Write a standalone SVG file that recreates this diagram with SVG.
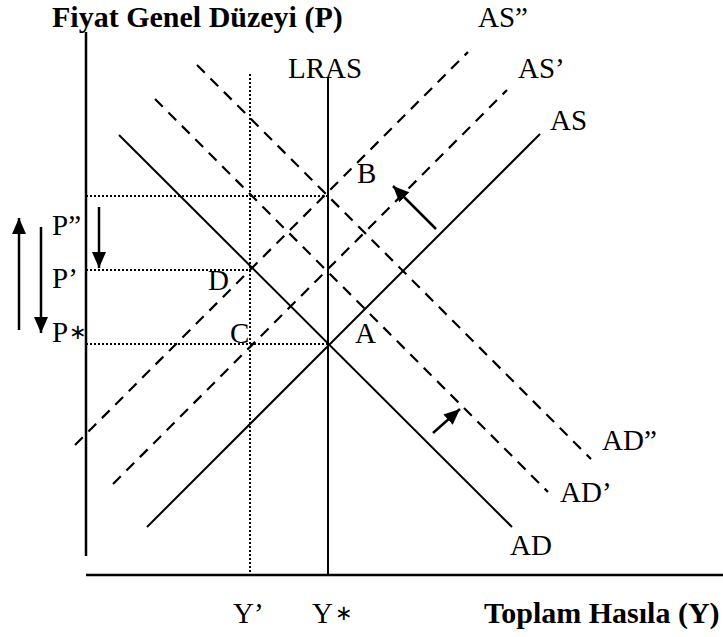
<svg xmlns="http://www.w3.org/2000/svg" width="723" height="637" viewBox="0 0 723 637">
<style>
.ln{stroke:#000;stroke-width:2;fill:none}
.ax{stroke:#000;stroke-width:2.5;fill:none}
.dash{stroke:#000;stroke-width:2.2;fill:none;stroke-dasharray:11 8}
.dot{stroke:#000;stroke-width:2;fill:none;stroke-dasharray:2 2}
.arr{stroke:#000;stroke-width:2.5;fill:none;marker-end:url(#ah)}
text{font-family:"Liberation Serif","Times New Roman",serif;font-size:29px;fill:#000}
.b{font-weight:bold;font-size:30px}
.st{font-size:21px}
</style>
<defs>
<marker id="ah" markerUnits="userSpaceOnUse" markerWidth="18" markerHeight="16" refX="16" refY="7" orient="auto">
<path d="M0,0 L16,7 L0,14 z" fill="#000"/>
</marker>
</defs>
<g id="axes">
<line class="ax" x1="86" y1="32" x2="86" y2="556"/>
<line class="ax" x1="86" y1="575" x2="723" y2="575"/>
<text class="b" x="52" y="27">Fiyat Genel Düzeyi (P)</text>
<text class="b" x="484" y="623">Toplam Hasıla (Y)</text>
</g>
<g id="connectors">
<line class="dot" x1="86" y1="196" x2="328" y2="196"/>
<line class="dot" x1="86" y1="270" x2="251" y2="270"/>
<line class="dot" x1="86" y1="344" x2="328" y2="344"/>
<line class="dot" x1="250" y1="74" x2="250" y2="575"/>
<line class="arr" x1="19" y1="330" x2="19" y2="218"/>
<line class="arr" x1="41" y1="227" x2="41" y2="333"/>
<line class="arr" x1="99" y1="207" x2="99" y2="268"/>
<line class="arr" x1="436" y1="229" x2="393" y2="186"/>
<line class="arr" x1="433" y1="433" x2="460" y2="409"/>
</g>
<g id="LRAS">
<line class="ln" x1="328" y1="77" x2="328" y2="575"/>
<text x="288" y="78">LRAS</text>
</g>
<g id="AS">
<line class="ln" x1="147" y1="527" x2="540" y2="134"/>
<text x="550" y="130">AS</text>
</g>
<g id="AS1">
<line class="dash" x1="113" y1="484" x2="507" y2="90"/>
<text x="518" y="78">AS’</text>
</g>
<g id="AS2">
<line class="dash" x1="75" y1="445" x2="468" y2="52"/>
<text x="478" y="27">AS”</text>
</g>
<g id="AD">
<line class="ln" x1="119" y1="135" x2="512" y2="527"/>
<text x="510" y="555">AD</text>
</g>
<g id="AD1">
<line class="dash" x1="155" y1="99" x2="548" y2="492"/>
<text x="560" y="502">AD’</text>
</g>
<g id="AD2">
<line class="dash" x1="197" y1="65" x2="591" y2="459"/>
<text x="602" y="450">AD”</text>
</g>
<g id="points">
<text x="355" y="343">A</text>
<text x="357" y="183">B</text>
<text x="230" y="343">C</text>
<text x="208" y="290">D</text>
<text x="52" y="235">P”</text>
<text x="52" y="288">P’</text>
<text x="52" y="342">P<tspan class="st" dx="1" dy="-3">∗</tspan></text>
<text x="233" y="623">Y’</text>
<text x="312" y="623">Y<tspan class="st" dx="2" dy="-3">∗</tspan></text>
</g>
</svg>
